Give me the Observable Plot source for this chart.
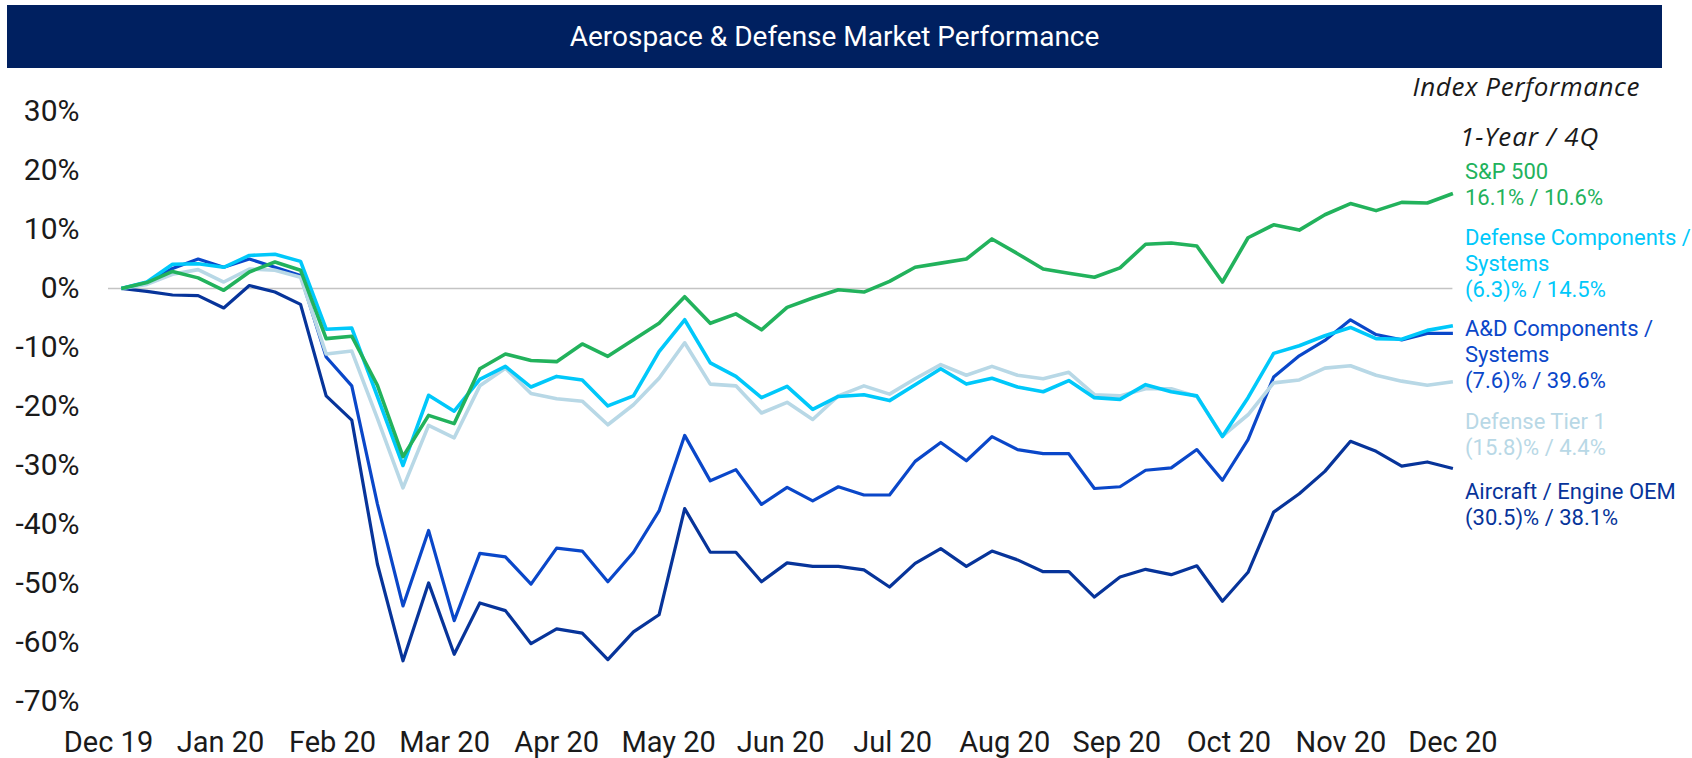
<!DOCTYPE html>
<html>
<head>
<meta charset="utf-8">
<script src="https://cdn.jsdelivr.net/npm/d3@7"></script>
<script src="https://cdn.jsdelivr.net/npm/@observablehq/plot@0.6"></script>
<style>
  html, body { margin: 0; padding: 0; background: #fff; width: 1692px; height: 758px; overflow: hidden; font-family: Roboto, "Liberation Sans", sans-serif; }
  #title { position: absolute; left: 7px; top: 5px; width: 1655px; height: 63px; background: #002060; color: #fff; font-size: 28px; display: flex; align-items: center; justify-content: center; }
  #chart { position: absolute; left: 0; top: 70px; }
  .hdr { position: absolute; font-family: "Open Sans", sans-serif; font-style: italic; font-size: 26px; line-height: 26px; color: #1a1a1a; white-space: nowrap; }
  .lab { position: absolute; left: 1465px; font-size: 22px; line-height: 26px; white-space: nowrap; }
</style>
</head>
<body>
<div id="title">Aerospace &amp; Defense Market Performance</div>
<div class="hdr" style="right:52px; top:73px; letter-spacing:0.6px;">Index Performance</div>
<div class="hdr" style="left:1460px; top:123px; letter-spacing:0.9px;">1-Year / 4Q</div>
<div id="chart"></div>
<div id="legend"></div>
<script>
// ---- Data (weekly index performance, % change since Dec 2019) ----
const sp500 = [0, 1.0, 2.9, 1.8, -0.3, 2.8, 4.5, 3.1, -8.5, -8.1,
  -16.4, -28.5, -21.5, -22.9, -13.6, -11.1, -12.2, -12.4, -9.4, -11.5,
  -8.7, -5.9, -1.4, -5.9, -4.3, -7.0, -3.2, -1.6, -0.2, -0.6,
  1.2, 3.6, 4.3, 5.0, 8.4, 5.9, 3.3, 2.6, 1.9, 3.5,
  7.5, 7.7, 7.2, 1.1, 8.6, 10.8, 9.9, 12.5, 14.4, 13.2,
  14.6, 14.5, 16.1];
const defenseComponents = [0, 1.1, 4.1, 4.2, 3.6, 5.6, 5.8, 4.6, -6.9, -6.7,
  -18.3, -30.0, -18.1, -20.8, -15.4, -13.2, -16.7, -14.9, -15.5, -19.9,
  -18.2, -10.7, -5.3, -12.6, -14.9, -18.5, -16.6, -20.5, -18.3, -18.0,
  -19.0, -16.3, -13.6, -16.2, -15.2, -16.7, -17.5, -15.6, -18.5, -18.8,
  -16.3, -17.5, -18.2, -25.1, -18.5, -11.0, -9.7, -8.0, -6.6, -8.5,
  -8.6, -7.1, -6.3];
const adComponents = [0, 1.0, 3.4, 5.0, 3.6, 5.0, 3.6, 2.2, -11.6, -16.5,
  -36.5, -53.8, -41.0, -56.3, -44.9, -45.5, -50.1, -44.0, -44.5, -49.7,
  -44.7, -37.7, -24.9, -32.6, -30.7, -36.6, -33.7, -36.0, -33.6, -35.0,
  -35.0, -29.3, -26.1, -29.2, -25.1, -27.3, -28.0, -28.0, -33.9, -33.6,
  -30.8, -30.4, -27.3, -32.5, -25.6, -15.0, -11.4, -8.8, -5.3, -7.8,
  -8.7, -7.6, -7.6];
const defenseTier1 = [0, 0.7, 2.4, 3.2, 1.1, 3.3, 3.1, 1.9, -11.1, -10.6,
  -22.0, -33.8, -23.2, -25.3, -16.5, -13.5, -17.8, -18.7, -19.1, -23.1,
  -19.7, -15.2, -9.2, -16.2, -16.5, -21.1, -19.3, -22.2, -18.2, -16.5,
  -17.9, -15.3, -12.9, -14.7, -13.2, -14.7, -15.3, -14.2, -18.0, -18.2,
  -17.0, -17.0, -18.3, -25.0, -21.4, -16.0, -15.5, -13.5, -13.1, -14.7,
  -15.7, -16.4, -15.8];
const aircraftOEM = [0, -0.5, -1.1, -1.2, -3.3, 0.5, -0.6, -2.7, -18.2, -22.3,
  -46.7, -63.1, -49.9, -62.0, -53.3, -54.6, -60.2, -57.7, -58.4, -62.9,
  -58.2, -55.3, -37.3, -44.7, -44.7, -49.7, -46.5, -47.1, -47.1, -47.7,
  -50.6, -46.6, -44.1, -47.1, -44.5, -46.0, -48.0, -48.0, -52.3, -48.9,
  -47.6, -48.5, -47.0, -53.0, -48.1, -37.9, -34.8, -31.0, -25.9, -27.6,
  -30.1, -29.4, -30.5];

const seriesNames = ["S&P 500", "Defense Components /\nSystems", "A&D Components /\nSystems", "Defense Tier 1", "Aircraft / Engine OEM"];
const seriesReturns = ["16.1% / 10.6%", "(6.3)% / 14.5%", "(7.6)% / 39.6%", "(15.8)% / 4.4%", "(30.5)% / 38.1%"];
const monthLabels = ["Dec 19", "Jan 20", "Feb 20", "Mar 20", "Apr 20", "May 20", "Jun 20", "Jul 20", "Aug 20", "Sep 20", "Oct 20", "Nov 20", "Dec 20"];
const yTicks = [30, 20, 10, 0, -10, -20, -30, -40, -50, -60, -70];

// ---- Styles ----
const seriesValues = [sp500, defenseComponents, adComponents, defenseTier1, aircraftOEM];
const seriesColors = ["#22b25c", "#00c8fa", "#0a47c9", "#b8d8e6", "#07349a"];
const seriesWidths = [3.6, 3.6, 3.2, 3.6, 3.2];
const drawOrder = [4, 2, 3, 1, 0];
const legendBaselines = [179, 245, 336, 429, 499];

// ---- Build table ----
const rows = [];
seriesValues.forEach((vals, s) => vals.forEach((v, i) => rows.push({week: i, value: v, series: s})));
const nWeeks = sp500.length;
const xDomain = [-0.5, nWeeks - 1];
const tickPos = monthLabels.map((_, k) => xDomain[0] + k * (xDomain[1] - xDomain[0]) / (monthLabels.length - 1));
const labelAt = new Map(tickPos.map((t, k) => [t, monthLabels[k]]));

const chart = Plot.plot({
  width: 1692,
  height: 688,
  marginLeft: 108,
  marginRight: 239.6,
  marginTop: 41,
  marginBottom: 57,
  style: {fontFamily: "Roboto, 'Liberation Sans', sans-serif", fontSize: "30px", color: "#1a1a1a", background: "transparent", overflow: "visible"},
  x: {type: "linear", domain: xDomain},
  y: {domain: [-70, 30]},
  marks: [
    Plot.ruleY([0], {stroke: "#c4c4c4", strokeWidth: 1.5}),
    Plot.axisY(yTicks, {anchor: "left", tickSize: 0, tickPadding: 29, tickFormat: d => `${d}%`, label: null, fontSize: 30}),
    Plot.axisX(tickPos, {anchor: "bottom", tickSize: 0, tickPadding: 30, tickFormat: d => labelAt.get(d), label: null, fontSize: 29}),
    ...drawOrder.map(s => Plot.line(rows.filter(r => r.series === s), {
      x: "week", y: "value",
      stroke: seriesColors[s], strokeWidth: seriesWidths[s],
      strokeLinejoin: "round", strokeLinecap: "butt"
    }))
  ]
});
document.getElementById("chart").appendChild(chart);

// ---- Right-hand labels ----
const legend = document.getElementById("legend");
seriesNames.forEach((name, s) => {
  const div = document.createElement("div");
  div.className = "lab";
  div.style.color = seriesColors[s];
  div.style.top = (legendBaselines[s] - 20.5) + "px";
  div.innerHTML = name.split("\n").concat([seriesReturns[s]])
    .map(t => t.replace(/&/g, "&amp;")).join("<br>");
  legend.appendChild(div);
});
</script>
</body>
</html>
